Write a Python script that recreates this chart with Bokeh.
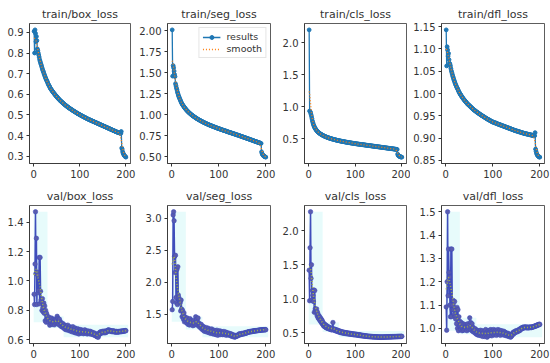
import numpy as np
from bokeh.plotting import figure
from bokeh.layouts import gridplot
from bokeh.models import Range1d, FixedTicker, NumeralTickFormatter, Legend, LegendItem
from bokeh.embed import file_html
from bokeh.resources import INLINE

epochs = list(range(1, 201))

train_box_loss = [
 0.905, 0.800, 0.912, 0.895, 0.855, 0.880, 0.860, 0.820, 0.812, 0.800,
 0.790, 0.780, 0.768, 0.760, 0.752, 0.745, 0.738, 0.730, 0.722, 0.716,
 0.710, 0.703, 0.697, 0.690, 0.684, 0.679, 0.673, 0.668, 0.664, 0.659,
 0.652, 0.648, 0.643, 0.640, 0.635, 0.630, 0.627, 0.624, 0.620, 0.617,
 0.614, 0.611, 0.608, 0.605, 0.602, 0.600, 0.596, 0.594, 0.591, 0.589,
 0.586, 0.583, 0.581, 0.578, 0.576, 0.574, 0.571, 0.569, 0.567, 0.565,
 0.563, 0.561, 0.559, 0.557, 0.555, 0.553, 0.551, 0.549, 0.547, 0.546,
 0.544, 0.542, 0.540, 0.539, 0.537, 0.535, 0.534, 0.532, 0.531, 0.529,
 0.528, 0.526, 0.525, 0.523, 0.522, 0.520, 0.519, 0.517, 0.516, 0.515,
 0.513, 0.512, 0.510, 0.509, 0.508, 0.506, 0.505, 0.504, 0.503, 0.501,
 0.500, 0.499, 0.498, 0.496, 0.495, 0.494, 0.493, 0.492, 0.490, 0.489,
 0.488, 0.487, 0.486, 0.485, 0.483, 0.482, 0.481, 0.480, 0.479, 0.478,
 0.477, 0.476, 0.475, 0.474, 0.473, 0.472, 0.471, 0.470, 0.469, 0.468,
 0.467, 0.466, 0.465, 0.464, 0.463, 0.462, 0.461, 0.460, 0.459, 0.458,
 0.457, 0.456, 0.455, 0.454, 0.453, 0.452, 0.451, 0.450, 0.449, 0.448,
 0.447, 0.446, 0.445, 0.444, 0.443, 0.442, 0.441, 0.440, 0.439, 0.438,
 0.437, 0.436, 0.435, 0.434, 0.433, 0.432, 0.431, 0.430, 0.429, 0.428,
 0.427, 0.426, 0.425, 0.424, 0.423, 0.422, 0.421, 0.420, 0.419, 0.418,
 0.417, 0.416, 0.416, 0.415, 0.414, 0.413, 0.412, 0.412, 0.411, 0.420,
 0.340, 0.335, 0.322, 0.315, 0.310, 0.306, 0.303, 0.300, 0.298, 0.296]

train_seg_loss = [
 2.010, 1.460, 1.585, 1.560, 1.520, 1.480, 1.455, 1.370, 1.345, 1.320,
 1.300, 1.275, 1.255, 1.235, 1.220, 1.205, 1.190, 1.178, 1.165, 1.152,
 1.140, 1.130, 1.120, 1.112, 1.104, 1.095, 1.088, 1.080, 1.073, 1.066,
 1.060, 1.053, 1.047, 1.041, 1.036, 1.030, 1.025, 1.020, 1.015, 1.010,
 1.005, 1.000, 0.996, 0.992, 0.988, 0.984, 0.980, 0.976, 0.972, 0.968,
 0.964, 0.960, 0.957, 0.954, 0.950, 0.947, 0.943, 0.940, 0.937, 0.934,
 0.931, 0.928, 0.925, 0.922, 0.919, 0.916, 0.913, 0.910, 0.907, 0.905,
 0.902, 0.899, 0.897, 0.894, 0.892, 0.889, 0.887, 0.884, 0.882, 0.879,
 0.877, 0.875, 0.872, 0.870, 0.868, 0.866, 0.863, 0.861, 0.859, 0.857,
 0.855, 0.853, 0.851, 0.848, 0.846, 0.844, 0.842, 0.840, 0.838, 0.836,
 0.834, 0.832, 0.830, 0.828, 0.826, 0.824, 0.822, 0.820, 0.818, 0.816,
 0.814, 0.812, 0.811, 0.809, 0.807, 0.805, 0.803, 0.801, 0.799, 0.797,
 0.795, 0.793, 0.791, 0.790, 0.788, 0.786, 0.784, 0.782, 0.780, 0.778,
 0.776, 0.775, 0.773, 0.771, 0.769, 0.767, 0.765, 0.763, 0.761, 0.760,
 0.758, 0.756, 0.754, 0.752, 0.750, 0.748, 0.746, 0.744, 0.742, 0.740,
 0.738, 0.736, 0.734, 0.732, 0.730, 0.728, 0.726, 0.724, 0.722, 0.720,
 0.718, 0.716, 0.714, 0.712, 0.710, 0.708, 0.706, 0.704, 0.702, 0.700,
 0.698, 0.696, 0.694, 0.692, 0.690, 0.688, 0.686, 0.684, 0.682, 0.680,
 0.678, 0.676, 0.674, 0.672, 0.670, 0.668, 0.666, 0.664, 0.662, 0.660,
 0.560, 0.540, 0.528, 0.520, 0.514, 0.509, 0.505, 0.502, 0.499, 0.497]

train_cls_loss = [
 2.200, 0.935, 0.925, 0.910, 0.880, 0.850, 0.815, 0.780, 0.752, 0.728,
 0.708, 0.690, 0.675, 0.662, 0.650, 0.640, 0.631, 0.622, 0.614, 0.607,
 0.600, 0.594, 0.588, 0.583, 0.578, 0.573, 0.568, 0.564, 0.560, 0.556,
 0.552, 0.548, 0.545, 0.541, 0.538, 0.535, 0.532, 0.529, 0.526, 0.523,
 0.520, 0.518, 0.515, 0.513, 0.510, 0.508, 0.506, 0.503, 0.501, 0.499,
 0.497, 0.495, 0.493, 0.491, 0.489, 0.487, 0.485, 0.483, 0.481, 0.480,
 0.478, 0.476, 0.475, 0.473, 0.471, 0.470, 0.468, 0.467, 0.465, 0.464,
 0.462, 0.461, 0.459, 0.458, 0.457, 0.455, 0.454, 0.452, 0.451, 0.450,
 0.448, 0.447, 0.446, 0.445, 0.443, 0.442, 0.441, 0.440, 0.438, 0.437,
 0.436, 0.435, 0.434, 0.432, 0.431, 0.430, 0.429, 0.428, 0.427, 0.426,
 0.424, 0.423, 0.422, 0.421, 0.420, 0.419, 0.418, 0.417, 0.416, 0.415,
 0.414, 0.413, 0.412, 0.411, 0.410, 0.409, 0.408, 0.407, 0.406, 0.405,
 0.404, 0.403, 0.402, 0.401, 0.400, 0.399, 0.398, 0.397, 0.396, 0.395,
 0.394, 0.393, 0.392, 0.391, 0.390, 0.389, 0.388, 0.387, 0.386, 0.385,
 0.384, 0.383, 0.382, 0.381, 0.380, 0.379, 0.378, 0.377, 0.376, 0.375,
 0.374, 0.373, 0.372, 0.371, 0.370, 0.369, 0.368, 0.367, 0.366, 0.365,
 0.364, 0.363, 0.362, 0.361, 0.360, 0.359, 0.358, 0.357, 0.356, 0.355,
 0.354, 0.353, 0.352, 0.351, 0.350, 0.349, 0.348, 0.347, 0.346, 0.345,
 0.344, 0.343, 0.342, 0.341, 0.340, 0.339, 0.338, 0.337, 0.336, 0.335,
 0.262, 0.245, 0.236, 0.230, 0.226, 0.223, 0.220, 0.218, 0.216, 0.215]

train_dfl_loss = [
 1.143, 1.062, 1.105, 1.098, 1.084, 1.090, 1.076, 1.068, 1.066, 1.062,
 1.056, 1.051, 1.047, 1.043, 1.039, 1.036, 1.032, 1.029, 1.026, 1.023,
 1.020, 1.018, 1.015, 1.013, 1.011, 1.009, 1.006, 1.004, 1.002, 1.000,
 0.998, 0.997, 0.995, 0.993, 0.992, 0.990, 0.989, 0.987, 0.986, 0.985,
 0.983, 0.982, 0.981, 0.980, 0.978, 0.977, 0.976, 0.975, 0.974, 0.973,
 0.972, 0.971, 0.970, 0.969, 0.968, 0.967, 0.966, 0.965, 0.964, 0.963,
 0.962, 0.962, 0.961, 0.960, 0.959, 0.958, 0.958, 0.957, 0.956, 0.955,
 0.955, 0.954, 0.953, 0.952, 0.952, 0.951, 0.950, 0.950, 0.949, 0.948,
 0.948, 0.947, 0.946, 0.946, 0.945, 0.944, 0.944, 0.943, 0.942, 0.942,
 0.941, 0.941, 0.940, 0.939, 0.939, 0.938, 0.938, 0.937, 0.936, 0.936,
 0.936, 0.935, 0.935, 0.934, 0.934, 0.934, 0.933, 0.933, 0.932, 0.932,
 0.931, 0.931, 0.931, 0.930, 0.930, 0.929, 0.929, 0.929, 0.928, 0.928,
 0.927, 0.927, 0.927, 0.926, 0.926, 0.925, 0.925, 0.925, 0.924, 0.924,
 0.923, 0.923, 0.923, 0.922, 0.922, 0.921, 0.921, 0.921, 0.920, 0.920,
 0.919, 0.919, 0.919, 0.918, 0.918, 0.917, 0.917, 0.917, 0.916, 0.916,
 0.916, 0.915, 0.915, 0.915, 0.914, 0.914, 0.914, 0.913, 0.913, 0.913,
 0.912, 0.912, 0.912, 0.911, 0.911, 0.911, 0.910, 0.910, 0.910, 0.910,
 0.909, 0.909, 0.909, 0.909, 0.908, 0.908, 0.908, 0.908, 0.907, 0.907,
 0.907, 0.907, 0.906, 0.906, 0.906, 0.906, 0.905, 0.905, 0.905, 0.912,
 0.875, 0.870, 0.866, 0.863, 0.861, 0.860, 0.859, 0.858, 0.857, 0.857]

val_box_loss = [
 0.910, 0.840, 1.115, 1.470, 1.050, 1.290, 0.840, 1.060, 1.040, 0.920,
 0.935, 1.160, 0.845, 1.160, 0.930, 0.870, 0.860, 0.800, 0.880, 0.820,
 0.790, 0.850, 0.780, 0.830, 0.730, 0.800, 0.720, 0.780, 0.740, 0.760,
 0.745, 0.720, 0.755, 0.735, 0.700, 0.742, 0.728, 0.712, 0.748, 0.722,
 0.705, 0.738, 0.716, 0.730, 0.702, 0.725, 0.740, 0.712, 0.735, 0.718,
 0.760, 0.722, 0.745, 0.705, 0.728, 0.740, 0.700, 0.722, 0.692, 0.715,
 0.705, 0.688, 0.712, 0.695, 0.680, 0.702, 0.690, 0.672, 0.698, 0.685,
 0.668, 0.692, 0.678, 0.700, 0.665, 0.684, 0.672, 0.690, 0.660, 0.678,
 0.668, 0.684, 0.655, 0.676, 0.690, 0.662, 0.672, 0.650, 0.668, 0.680,
 0.648, 0.665, 0.672, 0.645, 0.660, 0.675, 0.652, 0.640, 0.668, 0.658,
 0.650, 0.670, 0.645, 0.660, 0.648, 0.665, 0.655, 0.642, 0.662, 0.650,
 0.668, 0.645, 0.658, 0.650, 0.662, 0.640, 0.655, 0.648, 0.660, 0.645,
 0.652, 0.640, 0.658, 0.645, 0.650, 0.638, 0.652, 0.645, 0.635, 0.648,
 0.640, 0.632, 0.645, 0.628, 0.638, 0.625, 0.635, 0.620, 0.630, 0.618,
 0.632, 0.645, 0.650, 0.640, 0.655, 0.645, 0.652, 0.648, 0.658, 0.650,
 0.655, 0.648, 0.660, 0.652, 0.648, 0.656, 0.650, 0.662, 0.655, 0.660,
 0.665, 0.668, 0.662, 0.666, 0.660, 0.664, 0.658, 0.662, 0.660, 0.655,
 0.658, 0.662, 0.656, 0.660, 0.655, 0.658, 0.652, 0.656, 0.654, 0.658,
 0.655, 0.652, 0.656, 0.654, 0.658, 0.655, 0.657, 0.655, 0.658, 0.660,
 0.656, 0.658, 0.660, 0.658, 0.661, 0.660, 0.662, 0.661, 0.663, 0.662]

val_seg_loss = [
 1.570, 1.700, 3.050, 3.100, 2.960, 2.400, 2.150, 2.420, 1.760, 1.680,
 2.200, 1.650, 2.240, 1.800, 1.760, 1.720, 1.700, 1.680, 1.550, 1.720,
 1.580, 1.460, 1.560, 1.480, 1.420, 1.520, 1.380, 1.460, 1.400, 1.440,
 1.420, 1.360, 1.440, 1.380, 1.340, 1.410, 1.370, 1.330, 1.430, 1.360,
 1.340, 1.400, 1.350, 1.380, 1.320, 1.360, 1.400, 1.330, 1.370, 1.345,
 1.460, 1.370, 1.420, 1.330, 1.380, 1.440, 1.320, 1.360, 1.300, 1.340,
 1.330, 1.280, 1.340, 1.290, 1.260, 1.310, 1.280, 1.240, 1.300, 1.260,
 1.230, 1.280, 1.250, 1.290, 1.220, 1.260, 1.240, 1.280, 1.210, 1.250,
 1.230, 1.260, 1.200, 1.240, 1.270, 1.210, 1.240, 1.190, 1.230, 1.250,
 1.190, 1.220, 1.240, 1.180, 1.210, 1.250, 1.200, 1.170, 1.230, 1.210,
 1.190, 1.240, 1.180, 1.220, 1.200, 1.230, 1.210, 1.180, 1.220, 1.200,
 1.230, 1.180, 1.210, 1.190, 1.220, 1.170, 1.200, 1.190, 1.210, 1.180,
 1.190, 1.170, 1.200, 1.180, 1.190, 1.160, 1.190, 1.170, 1.150, 1.180,
 1.160, 1.150, 1.170, 1.140, 1.160, 1.150, 1.170, 1.155, 1.165, 1.160,
 1.170, 1.180, 1.190, 1.175, 1.195, 1.180, 1.190, 1.185, 1.200, 1.190,
 1.195, 1.190, 1.205, 1.195, 1.200, 1.210, 1.200, 1.215, 1.205, 1.210,
 1.220, 1.215, 1.225, 1.220, 1.228, 1.222, 1.230, 1.225, 1.232, 1.228,
 1.235, 1.230, 1.238, 1.234, 1.240, 1.236, 1.242, 1.238, 1.244, 1.240,
 1.245, 1.242, 1.248, 1.245, 1.250, 1.247, 1.252, 1.249, 1.254, 1.251,
 1.255, 1.252, 1.256, 1.254, 1.258, 1.255, 1.258, 1.256, 1.259, 1.257]

val_cls_loss = [
 1.420, 0.970, 1.750, 2.280, 1.300, 1.500, 0.980, 1.120, 1.050, 0.960,
 1.130, 0.800, 1.120, 0.850, 0.820, 0.800, 0.850, 0.750, 0.800, 0.720,
 0.760, 0.700, 0.740, 0.680, 0.720, 0.660, 0.700, 0.640, 0.680, 0.620,
 0.650, 0.600, 0.630, 0.590, 0.620, 0.580, 0.610, 0.570, 0.600, 0.565,
 0.590, 0.560, 0.580, 0.555, 0.575, 0.550, 0.570, 0.545, 0.565, 0.540,
 0.560, 0.650, 0.545, 0.555, 0.535, 0.550, 0.530, 0.545, 0.525, 0.540,
 0.520, 0.535, 0.515, 0.530, 0.510, 0.525, 0.505, 0.520, 0.500, 0.515,
 0.500, 0.512, 0.495, 0.508, 0.492, 0.505, 0.490, 0.502, 0.488, 0.500,
 0.486, 0.498, 0.484, 0.495, 0.482, 0.493, 0.480, 0.490, 0.478, 0.488,
 0.476, 0.486, 0.474, 0.484, 0.472, 0.482, 0.470, 0.480, 0.468, 0.478,
 0.468, 0.476, 0.465, 0.474, 0.463, 0.472, 0.461, 0.470, 0.459, 0.468,
 0.457, 0.465, 0.455, 0.462, 0.453, 0.460, 0.451, 0.458, 0.450, 0.456,
 0.448, 0.454, 0.446, 0.452, 0.445, 0.450, 0.443, 0.448, 0.442, 0.447,
 0.441, 0.446, 0.440, 0.445, 0.439, 0.444, 0.438, 0.443, 0.437, 0.442,
 0.437, 0.441, 0.436, 0.440, 0.435, 0.439, 0.435, 0.438, 0.434, 0.438,
 0.434, 0.437, 0.433, 0.437, 0.433, 0.436, 0.433, 0.436, 0.434, 0.437,
 0.434, 0.437, 0.435, 0.438, 0.435, 0.438, 0.436, 0.439, 0.436, 0.439,
 0.437, 0.440, 0.437, 0.440, 0.438, 0.441, 0.438, 0.441, 0.439, 0.442,
 0.439, 0.442, 0.440, 0.443, 0.440, 0.443, 0.441, 0.444, 0.441, 0.444,
 0.442, 0.445, 0.442, 0.445, 0.443, 0.446, 0.443, 0.446, 0.444, 0.446]

val_dfl_loss = [
 1.092, 0.992, 1.200, 1.500, 1.140, 1.340, 1.240, 1.220, 1.100, 1.050,
 1.340, 1.050, 1.340, 1.080, 1.100, 1.120, 1.080, 1.060, 1.115, 1.050,
 1.040, 1.080, 1.020, 1.090, 1.000, 1.080, 0.990, 1.050, 1.010, 1.030,
 1.010, 0.995, 1.025, 1.005, 0.990, 1.020, 1.000, 0.992, 1.018, 1.002,
 0.995, 1.015, 1.000, 1.010, 0.990, 1.008, 1.020, 0.996, 1.012, 1.000,
 1.045, 1.005, 1.025, 0.992, 1.010, 1.020, 0.988, 1.005, 0.985, 0.998,
 0.992, 0.980, 0.998, 0.985, 0.975, 0.992, 0.982, 0.972, 0.990, 0.980,
 0.970, 0.988, 0.976, 0.992, 0.968, 0.984, 0.974, 0.990, 0.965, 0.982,
 0.975, 0.988, 0.965, 0.980, 0.995, 0.970, 0.982, 0.962, 0.978, 0.990,
 0.968, 0.982, 0.992, 0.970, 0.985, 0.995, 0.975, 0.968, 0.990, 0.980,
 0.975, 0.995, 0.972, 0.988, 0.978, 0.992, 0.982, 0.970, 0.990, 0.980,
 0.995, 0.975, 0.988, 0.980, 0.992, 0.970, 0.985, 0.978, 0.990, 0.975,
 0.982, 0.972, 0.988, 0.978, 0.985, 0.970, 0.982, 0.976, 0.968, 0.980,
 0.975, 0.968, 0.978, 0.965, 0.975, 0.968, 0.972, 0.962, 0.970, 0.966,
 0.972, 0.978, 0.982, 0.975, 0.985, 0.980, 0.985, 0.982, 0.990, 0.985,
 0.988, 0.985, 0.992, 0.988, 0.990, 0.995, 0.990, 0.998, 0.994, 0.998,
 1.002, 0.998, 1.004, 1.000, 1.005, 1.002, 1.006, 1.003, 1.006, 1.004,
 1.005, 1.002, 1.006, 1.003, 1.004, 1.002, 1.005, 1.003, 1.006, 1.004,
 1.005, 1.003, 1.006, 1.005, 1.007, 1.006, 1.008, 1.007, 1.010, 1.009,
 1.011, 1.010, 1.013, 1.012, 1.015, 1.014, 1.016, 1.015, 1.018, 1.017]

titles = ["train/box_loss", "train/seg_loss", "train/cls_loss", "train/dfl_loss",
          "val/box_loss", "val/seg_loss", "val/cls_loss", "val/dfl_loss"]
series = [train_box_loss, train_seg_loss, train_cls_loss, train_dfl_loss,
          val_box_loss, val_seg_loss, val_cls_loss, val_dfl_loss]
y_ticks = [[0.3, 0.4, 0.5, 0.6, 0.7, 0.8, 0.9],
           [0.5, 0.75, 1.0, 1.25, 1.5, 1.75, 2.0],
           [0.5, 1.0, 1.5, 2.0],
           [0.85, 0.9, 0.95, 1.0, 1.05, 1.1, 1.15],
           [0.6, 0.8, 1.0, 1.2, 1.4],
           [1.5, 2.0, 2.5, 3.0],
           [0.5, 1.0, 1.5, 2.0],
           [1.0, 1.1, 1.2, 1.3, 1.4, 1.5]]
y_formats = ["0.0", "0.00", "0.0", "0.00", "0.0", "0.0", "0.0", "0.0"]
x_ticks = [0, 100, 200]
val_band_edges = [0, 30, 65, 205]

# layout per column: (left border, frame width, right border)
col_layout = [(29, 101, 6), (28, 103, 9), (24, 102, 4), (29, 103, 10)]

FONT = "DejaVu Sans"


def gauss_smooth(y, sigma=3.0):
    y = np.asarray(y, dtype=float)
    r = int(4 * sigma + 0.5)
    k = np.exp(-0.5 * (np.arange(-r, r + 1) / sigma) ** 2)
    k /= k.sum()
    yp = np.pad(y, r, mode="symmetric")
    return np.convolve(yp, k, mode="valid")


def panel(i):
    y = series[i]
    top = i < 4
    val = not top
    lb, fw, rb = col_layout[i % 4]
    lo, hi = min(y), max(y)
    pad = 0.05 * (hi - lo)
    p = figure(frame_width=fw, frame_height=140 if top else 138,
               output_backend="svg", toolbar_location=None,
               x_range=Range1d(-9, 210), y_range=Range1d(lo - pad, hi + pad),
               min_border_left=lb, min_border_right=rb,
               min_border_top=23 if top else 18, min_border_bottom=22 if top else 21)
    p.title.text = titles[i]
    p.title.align = "center"
    p.title.text_font = FONT
    p.title.text_font_style = "normal"
    p.title.text_font_size = "11px"
    p.title.text_color = "#333333"
    p.title.standoff = 5
    p.xgrid.visible = False
    p.ygrid.visible = False
    p.outline_line_color = "#333333"
    p.outline_line_alpha = 1.0
    p.outline_line_width = 0.8
    for ax in (p.xaxis, p.yaxis):
        ax.axis_line_color = "#333333"
        ax.axis_line_width = 0.8
        ax.major_tick_in = 0
        ax.major_tick_out = 3
        ax.major_tick_line_color = "#333333"
        ax.minor_tick_line_color = None
        ax.major_label_text_font = FONT
        ax.major_label_text_font_size = "10px"
        ax.major_label_text_color = "#333333"
        ax.major_label_standoff = 3
    p.xaxis.ticker = FixedTicker(ticks=x_ticks)
    p.yaxis.ticker = FixedTicker(ticks=y_ticks[i])
    p.yaxis.formatter = NumeralTickFormatter(format=y_formats[i])

    sm = gauss_smooth(y)
    if val:
        lefts, rights, bots, tops = [], [], [], []
        for a, b in zip(val_band_edges[:-1], val_band_edges[1:]):
            seg = [v for e, v in zip(epochs, y) if a < e <= b]
            lefts.append(a)
            rights.append(b)
            bots.append(min(seg))
            tops.append(max(seg))
        p.quad(left=lefts, right=rights, bottom=bots, top=tops,
               fill_color="#e4fbfb", fill_alpha=0.9, line_color=None)
        r1 = p.line(epochs, y, line_color="#3f4dbb", line_width=1.5)
        r2 = p.scatter(epochs, y, size=4.5, fill_color="#5a5cae", line_color="#3f4dbb", line_width=0.6)
        r3 = p.line(epochs, sm, line_color="#a3b348", line_width=1.5, line_dash="1 2")
    else:
        r1 = p.line(epochs, y, line_color="#1f77b4", line_width=1.3)
        r2 = p.scatter(epochs, y, size=3.8, fill_color="#1f77b4", line_color="#1f77b4")
        r3 = p.line(epochs, sm, line_color="#ff7f0e", line_width=1.3, line_dash="1 2")
    if i == 1:
        leg = Legend(items=[LegendItem(label="results", renderers=[r1, r2]),
                            LegendItem(label="smooth", renderers=[r3])],
                     location="top_right")
        leg.label_text_font = FONT
        leg.label_text_font_size = "9.5px"
        leg.label_text_color = "#333333"
        leg.glyph_width = 18
        leg.glyph_height = 10
        leg.label_height = 10
        leg.spacing = 1
        leg.padding = 3
        leg.margin = 4
        leg.label_standoff = 6
        leg.border_line_color = "#cccccc"
        leg.background_fill_alpha = 0.8
        p.add_layout(leg)
    return p


plots = [panel(i) for i in range(8)]
grid = gridplot([plots[:4], plots[4:]], toolbar_location=None)

html = file_html(grid, INLINE)
open("out.html", "w").write(html)
